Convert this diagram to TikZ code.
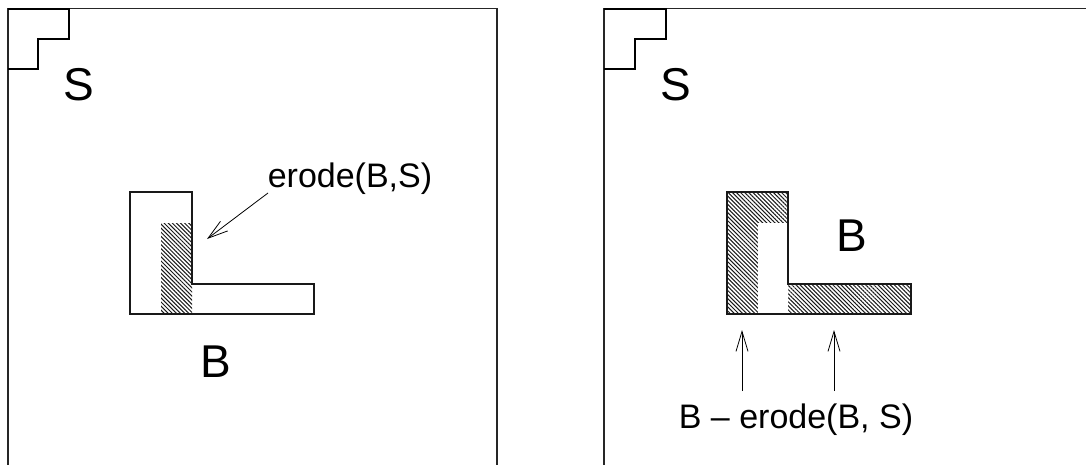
\documentclass[tikz,border=0pt]{standalone}
\usepackage{fontspec}
\setmainfont{Liberation Sans}
\usetikzlibrary{arrows.meta,patterns.meta}
\tikzset{
  frame/.style={line width=1.5pt,black!85},
  elem/.style={line width=1.4pt,black},
  shapeL/.style={line width=1.6pt,black!90},
  hatch/.style={pattern={Lines[angle=-45,distance=2.9pt,line width=1.0pt]},pattern color=black!90},
  bigtxt/.style={font=\fontsize{46}{50}\selectfont,inner sep=0pt,anchor=base},
  lbltxt/.style={font=\fontsize{34}{38}\selectfont,inner sep=0pt,anchor=base},
  pointer/.style={line width=0.8pt,-{Straight Barb[length=20pt,width=12pt,line width=0.8pt]}}
}
\begin{document}
\begin{tikzpicture}[x=1pt,y=-1pt]
\useasboundingbox (0,0) rectangle (1086,465);
% ---------- left panel ----------
\draw[frame] (8,465) -- (8,8.5) -- (497,8.5) -- (497,465);
\draw[elem] (8,9) -- (69,9) -- (69,39) -- (38,39) -- (38,69) -- (8,69);
\node[bigtxt] (S1) at (79,101) {S};
\fill[hatch] (161,223) rectangle (192,314);
\draw[shapeL] (130,192) -- (192,192) -- (192,284) -- (314,284) -- (314,314) -- (130,314) -- cycle;
\node[bigtxt] (B1) at (216,377) {B};
\node[lbltxt] (E1) at (350,188) {erode(B,S)};
\coordinate (e1s) at (268,193);
\coordinate (e1t) at (207,239);
\draw[pointer] (e1s) -- (e1t);
% ---------- right panel ----------
\draw[frame] (604,465) -- (604,8.5) -- (1086,8.5);
\draw[elem] (604,9) -- (666,9) -- (666,39) -- (635,39) -- (635,69) -- (604,69);
\node[bigtxt] (S2) at (676,101) {S};
\fill[hatch] (727,192) -- (788,192) -- (788,284) -- (911,284) -- (911,314) -- (727,314) -- cycle;
\fill[white] (758,223) rectangle (788,313);
\draw[shapeL] (727,192) -- (788,192) -- (788,284) -- (911,284) -- (911,314) -- (727,314) -- cycle;
\node[bigtxt] (B2) at (852,251) {B};
\node[lbltxt] (D2) at (796,428) {B – erode(B, S)};
\coordinate (a1s) at (742,391);
\coordinate (a1t) at (742,330);
\coordinate (a2s) at (834,391);
\coordinate (a2t) at (834,330);
\draw[pointer] (a1s) -- (a1t);
\draw[pointer] (a2s) -- (a2t);
\end{tikzpicture}
\end{document}
